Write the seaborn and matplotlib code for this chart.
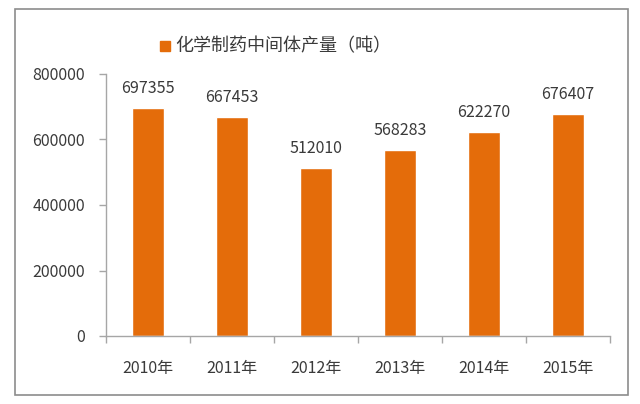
import numpy as np
import pandas as pd
import seaborn as sns
import matplotlib.pyplot as plt
from matplotlib.patches import Rectangle

years = ["2010年", "2011年", "2012年", "2013年", "2014年", "2015年"]
output = [697355, 667453, 512010, 568283, 622270, 676407]
series_name = "化学制药中间体产量（吨）"

sns.set_theme(style="white")
plt.rcParams['font.family'] = ['Noto Sans CJK SC', 'DejaVu Sans']

df = pd.DataFrame({"year": years, "output": output})

fig = plt.figure(figsize=(6.4, 4.04), dpi=100)
ax = fig.add_axes([106 / 640, 1 - 336 / 404, 504 / 640, 262 / 404])

bar_color = "#E46C0A"
text_color = "#3A3A3A"
axis_color = "#A6A6A6"

sns.barplot(data=df, x="year", y="output", color=bar_color, width=0.39,
            saturation=1, ax=ax)

ax.set_ylim(0, 800000)
ax.set_xlim(-0.5, len(years) - 0.5)
ax.set_yticks(np.arange(0, 800001, 200000))
ax.set_xlabel("")
ax.set_ylabel("")

for s in ["top", "right"]:
    ax.spines[s].set_visible(False)
for s in ["left", "bottom"]:
    ax.spines[s].set_color(axis_color)
    ax.spines[s].set_linewidth(1)

ax.tick_params(axis="y", length=5, width=1, color=axis_color, pad=10,
               labelsize=11.5, labelcolor=text_color, left=True)
ax.tick_params(axis="x", which="major", length=0, pad=17,
               labelsize=11.5, labelcolor=text_color)
ax.set_xticks(np.arange(-0.5, len(years)), minor=True)
ax.tick_params(axis="x", which="minor", length=5, width=1, color=axis_color,
               bottom=True)

for i, v in enumerate(output):
    ax.annotate(str(v), (i, v), xytext=(0, 8), textcoords="offset points",
                ha="center", va="bottom", fontsize=11.5, color=text_color)

# legend
fig.patches.append(Rectangle((160 / 640, 1 - 51 / 404), 10 / 640, 10 / 404,
                             transform=fig.transFigure, color=bar_color))
fig.text(175 / 640, 1 - 46 / 404, series_name, ha="left", va="center",
         fontsize=13, color=text_color)

# chart border
fig.patches.append(Rectangle((15 / 640, 1 - 395 / 404), 613 / 640, 386 / 404,
                             transform=fig.transFigure, fill=False,
                             edgecolor="#8C8C8C", linewidth=1.2))

fig.savefig("out.png", dpi=100, facecolor="white")
